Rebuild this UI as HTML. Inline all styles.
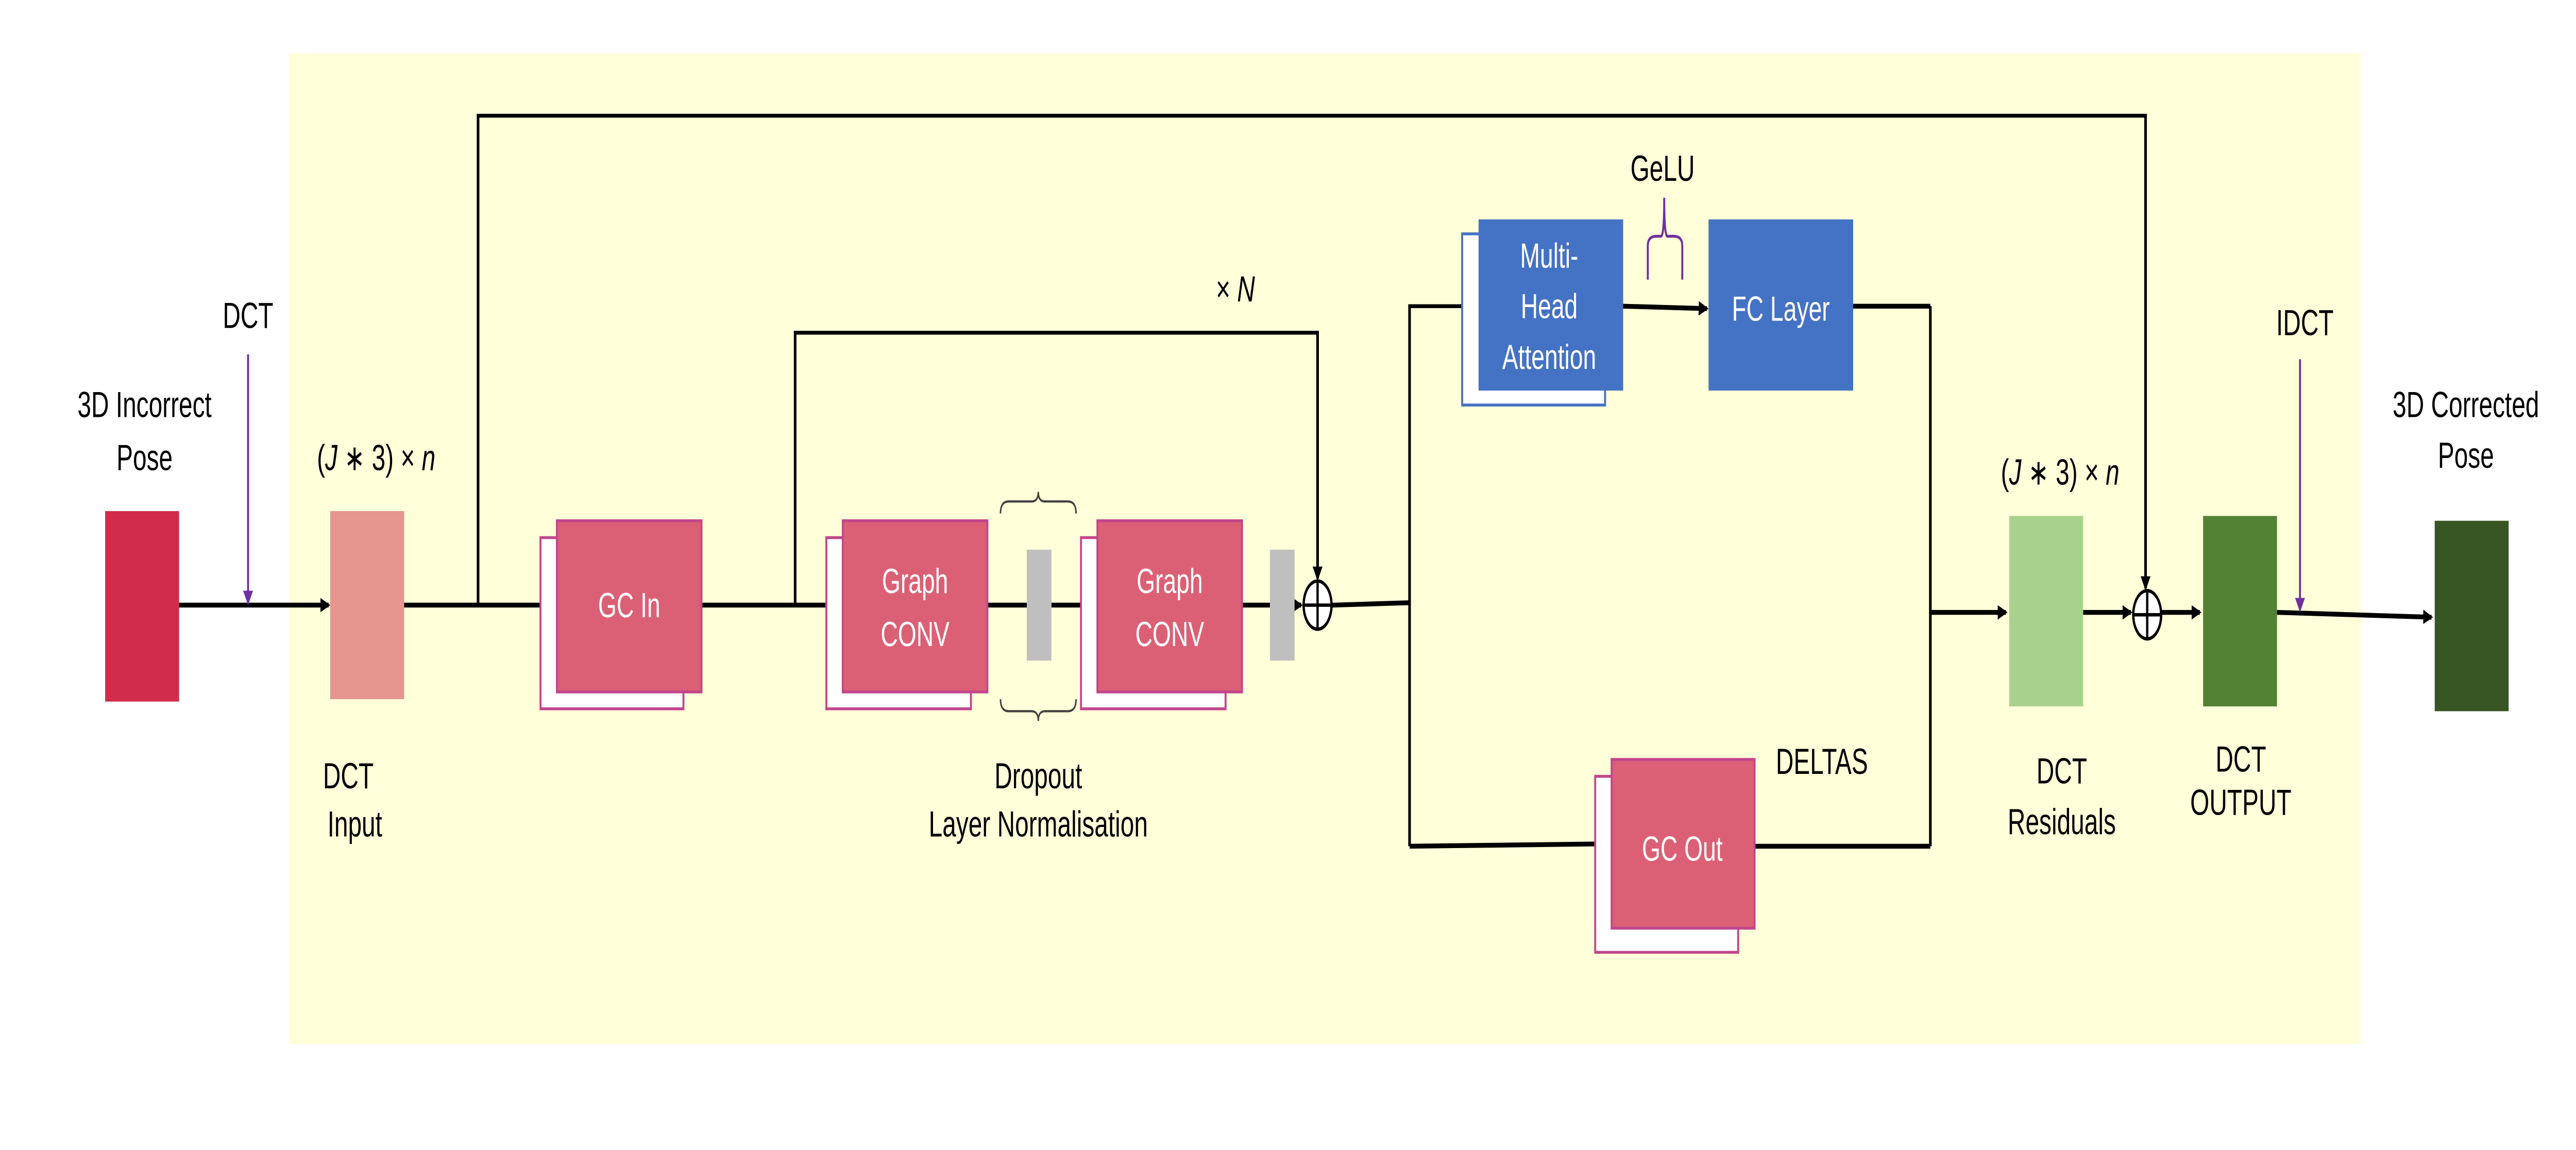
<!DOCTYPE html>
<html><head><meta charset="utf-8"><style>html,body{margin:0;padding:0;background:#fff;width:100vw;height:100vh;overflow:hidden}svg{display:block;position:absolute;left:0;top:0;width:100vw;height:100vh}text{font-family:"Liberation Sans",sans-serif}</style></head>
<body>
<svg viewBox="0 0 1568 477" preserveAspectRatio="none" xmlns="http://www.w3.org/2000/svg">
<defs>
<marker id="ah" markerWidth="6" markerHeight="6" refX="5" refY="3" orient="auto" markerUnits="userSpaceOnUse"><path d="M0,0 L6,3 L0,6 Z" fill="#000"/></marker>
<marker id="ap" markerWidth="6" markerHeight="6" refX="5" refY="3" orient="auto" markerUnits="userSpaceOnUse"><path d="M0,0 L6,3 L0,6 Z" fill="#7030a0"/></marker>
</defs>
<rect x="0" y="0" width="1568" height="477" fill="#fff"/>
<rect x="176" y="22" width="1261" height="411" fill="#ffffd9"/>

<g stroke="#000" stroke-width="2" fill="none">
<line x1="109" y1="251" x2="200" y2="251" marker-end="url(#ah)"/>
<line x1="246" y1="251" x2="338" y2="251" marker-end="url(#ah)"/>
<polyline points="291,251 291,48 1306,48 1306,244" stroke-width="1.6" marker-end="url(#ah)"/>
<line x1="427" y1="251" x2="512" y2="251" marker-end="url(#ah)"/>
<polyline points="484,251 484,138 802,138 802,240" stroke-width="1.6" marker-end="url(#ah)"/>
<line x1="601" y1="251" x2="625" y2="251"/>
<line x1="640" y1="251" x2="667" y2="251" marker-end="url(#ah)"/>
<line x1="756" y1="251" x2="792" y2="251" marker-end="url(#ah)"/>
<line x1="811" y1="251" x2="858" y2="250"/>
<polyline points="858,351 858,127 899,127" stroke-width="1.6" marker-end="url(#ah)"/>
<line x1="858" y1="351" x2="979" y2="350" marker-end="url(#ah)"/>
<line x1="988" y1="127" x2="1039" y2="128" marker-end="url(#ah)"/>
<line x1="1128" y1="127" x2="1175" y2="127"/>
<line x1="1175" y1="127" x2="1175" y2="351" stroke-width="1.6"/>
<line x1="1068" y1="351" x2="1175" y2="351"/>
<line x1="1175" y1="254" x2="1221" y2="254" marker-end="url(#ah)"/>
<line x1="1268" y1="254" x2="1297" y2="254" marker-end="url(#ah)"/>
<line x1="1316" y1="254" x2="1339" y2="254" marker-end="url(#ah)"/>
<line x1="1386" y1="254" x2="1480" y2="256" marker-end="url(#ah)"/>
</g>
<line x1="151" y1="147" x2="151" y2="250" stroke="#7030a0" stroke-width="1.2" marker-end="url(#ap)"/>
<line x1="1400" y1="149" x2="1400" y2="253" stroke="#7030a0" stroke-width="1.2" marker-end="url(#ap)"/>

<rect x="64" y="212" width="45" height="79" fill="#d12c4b"/>
<rect x="201" y="212" width="45" height="78" fill="#e6958f"/>
<rect x="1223" y="214" width="45" height="79" fill="#a9d18e"/>
<rect x="1341" y="214" width="45" height="79" fill="#548235"/>
<rect x="1482" y="216" width="45" height="79" fill="#375623"/>

<g stroke="#c2468c" stroke-width="1.2">
<rect x="329" y="223" width="87" height="71" fill="#fff"/>
<rect x="339" y="216" width="88" height="71" fill="#dc6075"/>
<rect x="503" y="223" width="88" height="71" fill="#fff"/>
<rect x="513" y="216" width="88" height="71" fill="#dc6075"/>
<rect x="658" y="223" width="88" height="71" fill="#fff"/>
<rect x="668" y="216" width="88" height="71" fill="#dc6075"/>
<rect x="971" y="322" width="87" height="73" fill="#fff"/>
<rect x="981" y="315" width="87" height="70" fill="#dc6075"/>
</g>
<rect x="890" y="97" width="87" height="71" fill="#fff" stroke="#4472c4" stroke-width="1.2"/>
<rect x="900" y="91" width="88" height="71" fill="#4472c4"/>
<rect x="1040" y="91" width="88" height="71" fill="#4472c4"/>

<rect x="625" y="228" width="15" height="46" fill="#bfbfbf"/>
<rect x="773" y="228" width="15" height="46" fill="#bfbfbf"/>
<path d="M609,213 Q609,208 614,208 L628,208 Q632,208 632,204 Q632,208 636,208 L650,208 Q655,208 655,213" fill="none" stroke="#404040" stroke-width="0.9"/>
<path d="M609,290 Q609,295 614,295 L628,295 Q632,295 632,299 Q632,295 636,295 L650,295 Q655,295 655,290" fill="none" stroke="#404040" stroke-width="0.9"/>
<path d="M1003,116 L1003,102 Q1003,98 1008,98 L1011,98 Q1013,98 1013,82 Q1013,98 1015,98 L1019,98 Q1024,98 1024,102 L1024,116" fill="none" stroke="#7030a0" stroke-width="1.2"/>

<g stroke="#000" stroke-width="1.4" fill="#fff">
<ellipse cx="802" cy="251" rx="8.5" ry="10"/><line x1="793.5" y1="251" x2="810.5" y2="251"/><line x1="802" y1="241" x2="802" y2="261"/></g>
<g stroke="#000" stroke-width="1.4" fill="#fff">
<ellipse cx="1307" cy="255" rx="8.5" ry="10"/><line x1="1298.5" y1="255" x2="1315.5" y2="255"/><line x1="1307" y1="245" x2="1307" y2="265"/></g>

<g font-size="14.5" fill="#fff" text-anchor="middle">
<text x="383" y="256">GC In</text>
<text x="557" y="246">Graph</text><text x="557" y="268">CONV</text>
<text x="712" y="246">Graph</text><text x="712" y="268">CONV</text>
<text x="1024" y="357">GC Out</text>
<text x="943" y="111">Multi-</text><text x="943" y="132">Head</text><text x="943" y="153">Attention</text>
<text x="1084" y="133">FC Layer</text>
</g>
<g font-size="15" fill="#000" text-anchor="middle">
<text x="151" y="136">DCT</text>
<text x="88" y="173">3D Incorrect</text><text x="88" y="195">Pose</text>
<text x="212" y="327">DCT</text><text x="216" y="347">Input</text>
<text x="632" y="327">Dropout</text><text x="632" y="347">Layer Normalisation</text>
<text x="1012" y="75">GeLU</text>
<text x="1109" y="321">DELTAS</text>
<text x="1255" y="325">DCT</text><text x="1255" y="346">Residuals</text>
<text x="1364" y="320">DCT</text><text x="1364" y="338">OUTPUT</text>
<text x="1403" y="139">IDCT</text>
<text x="1501" y="173">3D Corrected</text><text x="1501" y="194">Pose</text>
</g>
<g font-family="Liberation Serif" font-size="15" fill="#000" text-anchor="middle" font-style="italic">
<text x="229" y="195"><tspan font-style="normal">(</tspan>J <tspan font-style="normal">∗ 3) × </tspan>n</text>
<text x="1254" y="201"><tspan font-style="normal">(</tspan>J <tspan font-style="normal">∗ 3) × </tspan>n</text>
<text x="752" y="125"><tspan font-style="normal">× </tspan>N</text>
</g>
</svg>
</body></html>
